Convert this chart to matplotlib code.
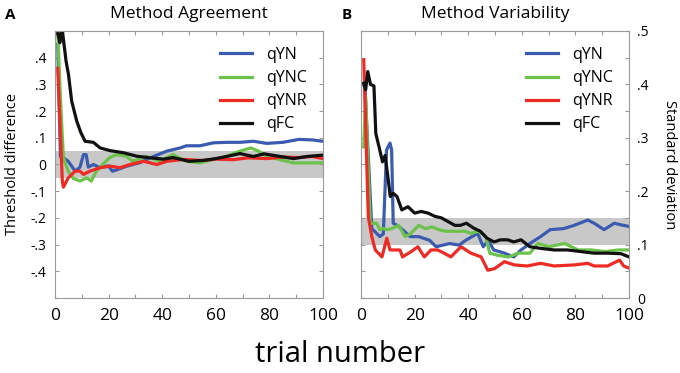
import matplotlib
matplotlib.use('Agg')
import matplotlib.pyplot as plt
from matplotlib.ticker import FixedLocator

plt.rcParams['font.family'] = ['Open Sans', 'DejaVu Sans']

# Panel A: threshold difference (trial, value)
a_qyn_x = [1, 2, 3.1, 4.9, 7.5, 9.3, 10.6, 11.6, 12.4, 14.3, 16.8, 19.9, 21.4, 23, 26.5,
           31.7, 36.7, 41.7, 46.7, 49, 54, 59, 64, 69, 74, 79, 85, 91, 96, 100]
a_qyn_y = [0.45, 0.03, 0.025, 0.012, -0.025, -0.01, 0.037, 0.037, -0.01, 0.0, -0.012, -0.005,
           -0.025, -0.02, -0.007, 0.007, 0.03, 0.05, 0.062, 0.07, 0.07, 0.081, 0.083, 0.083,
           0.087, 0.079, 0.083, 0.094, 0.092, 0.087]

a_qync_x = [1, 1.9, 3.1, 4.9, 6.8, 9.3, 11.8, 13.5, 15.4, 17.8, 20.3, 22.8, 26.5, 29, 34,
            39, 44, 49, 54, 59, 64, 69, 73, 76, 79, 84, 89, 94, 100]
a_qync_y = [0.5, 0.27, 0.025, -0.025, -0.052, -0.062, -0.05, -0.062, -0.025, 0.0, 0.025,
            0.037, 0.031, 0.012, 0.03, 0.012, 0.037, 0.012, 0.006, 0.018, 0.031, 0.05,
            0.062, 0.05, 0.03, 0.018, 0.006, 0.006, 0.006]

a_qynr_x = [1, 2.7, 3.1, 4.9, 7.5, 9.3, 10.6, 13, 16.8, 20.5, 24.2, 28, 33, 38, 41.7, 48,
            55, 60, 66.5, 72, 79, 85, 91, 96, 100]
a_qynr_y = [0.36, -0.062, -0.085, -0.05, -0.025, -0.025, -0.037, -0.025, -0.012, -0.006,
            -0.012, 0.0, 0.012, 0.0, 0.012, 0.019, 0.015, 0.02, 0.018, 0.025, 0.022, 0.028,
            0.026, 0.03, 0.022]

a_qfc_x = [1, 1.8, 2.5, 4.1, 5.0, 6.2, 8.1, 9.6, 11.2, 14.3, 16.8, 20.5, 25.5, 30.5, 35.5,
           40.5, 44, 50, 55, 60, 64, 69, 74, 78, 84, 89, 94, 100]
a_qfc_y = [0.49, 0.456, 0.52, 0.387, 0.337, 0.237, 0.162, 0.12, 0.087, 0.083, 0.062, 0.052,
           0.044, 0.031, 0.025, 0.02, 0.026, 0.012, 0.015, 0.022, 0.03, 0.041, 0.03, 0.04,
           0.03, 0.022, 0.03, 0.035]

# Panel B: standard deviation (trial, value)
b_qyn_x = [1, 1.5, 4, 7, 8.3, 9.5, 10.8, 11.4, 12, 13.8, 15.7, 18.3, 21.5, 25.6, 28, 30.5,
           33, 36.6, 39, 43.5, 45.6, 47.5, 49.5, 53.5, 57, 59.7, 63, 67, 70.6, 75.6, 79.5,
           84.6, 87, 90.7, 94.5, 97, 100]
b_qyn_y = [0.40, 0.39, 0.13, 0.115, 0.12, 0.277, 0.29, 0.277, 0.14, 0.135, 0.127, 0.115,
           0.115, 0.108, 0.096, 0.099, 0.102, 0.099, 0.108, 0.121, 0.096, 0.108, 0.09, 0.084,
           0.077, 0.09, 0.102, 0.115, 0.128, 0.13, 0.136, 0.146, 0.14, 0.128, 0.14, 0.137,
           0.134]

b_qync_x = [1, 1.7, 3.4, 5.8, 7, 8.3, 9.8, 11.5, 14, 16.5, 18.3, 21.5, 24, 26.5, 29, 31.5,
            35, 38.8, 41, 43.8, 46.6, 48, 51, 55, 58.7, 63, 66, 70, 76, 81, 86, 91, 96, 100]
b_qync_y = [0.283, 0.377, 0.14, 0.14, 0.128, 0.13, 0.128, 0.13, 0.136, 0.115, 0.12, 0.136,
            0.13, 0.133, 0.128, 0.125, 0.125, 0.125, 0.121, 0.125, 0.115, 0.084, 0.08,
            0.077, 0.084, 0.084, 0.102, 0.096, 0.102, 0.09, 0.09, 0.087, 0.09, 0.09]

b_qynr_x = [1, 2.7, 4, 5.3, 7.8, 9.6, 10.8, 14.5, 15.5, 18.7, 21.2, 23.6, 26.1, 28.6, 31,
            33.5, 37.3, 41, 44.8, 47.3, 49.8, 53.5, 57.2, 62, 67, 72, 79.6, 84.6, 87, 92,
            96.5, 98, 100]
b_qynr_y = [0.446, 0.152, 0.115, 0.09, 0.077, 0.112, 0.09, 0.09, 0.077, 0.087, 0.096, 0.077,
            0.09, 0.09, 0.084, 0.077, 0.096, 0.084, 0.077, 0.052, 0.055, 0.068, 0.062, 0.06,
            0.065, 0.06, 0.062, 0.065, 0.06, 0.06, 0.071, 0.06, 0.056]

b_qfc_x = [1, 1.7, 2.5, 3.5, 4.8, 5.5, 6.7, 8, 9, 10.9, 12, 13.4, 15.2, 17.5, 20, 22.4, 25,
           27.5, 30, 32.5, 35, 37, 39.3, 42, 44.5, 47, 49.6, 52, 54.7, 57, 59.7, 63, 67,
           72, 77, 82, 87, 92, 97, 100]
b_qfc_y = [0.402, 0.39, 0.424, 0.40, 0.397, 0.308, 0.283, 0.255, 0.267, 0.19, 0.196, 0.19,
           0.165, 0.171, 0.159, 0.162, 0.159, 0.153, 0.15, 0.143, 0.136, 0.136, 0.14, 0.131,
           0.125, 0.112, 0.105, 0.109, 0.109, 0.105, 0.109, 0.096, 0.093, 0.09, 0.09,
           0.087, 0.084, 0.084, 0.083, 0.077]

labels = ['qYN', 'qYNC', 'qYNR', 'qFC']
colors = ['#3a5bb0', '#6cc24a', '#ee2a24', '#111111']
x_ticks = [0, 10, 20, 30, 40, 50, 60, 70, 80, 90, 100]
x_ticklabels = ['0', '', '20', '', '40', '', '60', '', '80', '', '100']
a_ticks = [-0.4, -0.3, -0.2, -0.1, 0, 0.1, 0.2, 0.3, 0.4]
a_ticklabels = ['-.4', '-.3', '-.2', '-.1', '0', '.1', '.2', '.3', '.4']
b_ticks = [0, 0.05, 0.1, 0.15, 0.2, 0.25, 0.3, 0.35, 0.4, 0.45, 0.5]
b_ticklabels = ['0', '', '.1', '', '.2', '', '.3', '', '.4', '', '.5']

fig = plt.figure(figsize=(6.8, 3.73), dpi=100)
ax_a = fig.add_axes([0.081, 0.201, 0.394, 0.716])
ax_b = fig.add_axes([0.531, 0.201, 0.394, 0.716])

# A
ax_a.axhspan(-0.05, 0.05, color='#c8c8c8', zorder=0, lw=0)
series_a = [(a_qyn_x, a_qyn_y), (a_qync_x, a_qync_y), (a_qynr_x, a_qynr_y), (a_qfc_x, a_qfc_y)]
for (x, y), c, lab in zip(series_a, colors, labels):
    ax_a.plot(x, y, color=c, lw=2.3, label=lab)
ax_a.set_ylim(-0.5, 0.5)
ax_a.yaxis.set_major_locator(FixedLocator(a_ticks))
ax_a.set_yticklabels(a_ticklabels)
ax_a.set_ylabel('Threshold difference', fontsize=10.5, labelpad=8)
ax_a.set_title('Method Agreement', fontsize=12.5, pad=9)

# B
ax_b.axhspan(0.1, 0.15, color='#c8c8c8', zorder=0, lw=0)
series_b = [(b_qyn_x, b_qyn_y), (b_qync_x, b_qync_y), (b_qynr_x, b_qynr_y), (b_qfc_x, b_qfc_y)]
for (x, y), c, lab in zip(series_b, colors, labels):
    ax_b.plot(x, y, color=c, lw=2.3, label=lab)
ax_b.set_ylim(0, 0.5)
ax_b.yaxis.set_major_locator(FixedLocator(b_ticks))
ax_b.yaxis.tick_right()
ax_b.yaxis.set_label_position('right')
ax_b.set_yticklabels(b_ticklabels)
ax_b.set_ylabel('Standard deviation', fontsize=10.5, rotation=270, labelpad=20)
ax_b.set_title('Method Variability', fontsize=12.5, pad=9)

for ax in (ax_a, ax_b):
    for s in ax.spines.values():
        s.set_color('#9a9a9a')
    ax.set_xlim(0, 100)
    ax.xaxis.set_major_locator(FixedLocator(x_ticks))
    ax.set_xticklabels(x_ticklabels)
    ax.tick_params(direction='in', length=3, color='#9a9a9a', top=True, right=True,
                   left=True, labelsize=12.5, pad=7)
    ax.tick_params(axis='y', labelsize=10, pad=6)
    ax.legend(loc='upper right', frameon=False, fontsize=11.5, handlelength=2.0,
              handletextpad=0.9, labelspacing=0.45, borderaxespad=0.6)

ax_b.tick_params(axis='y', labelleft=False, labelright=True)

fig.text(0.008, 0.95, 'A', fontsize=11, fontweight='bold')
fig.text(0.503, 0.95, 'B', fontsize=11, fontweight='bold')
fig.text(0.5, 0.03, 'trial number', fontsize=21, ha='center')

fig.savefig('out.png', dpi=100)
